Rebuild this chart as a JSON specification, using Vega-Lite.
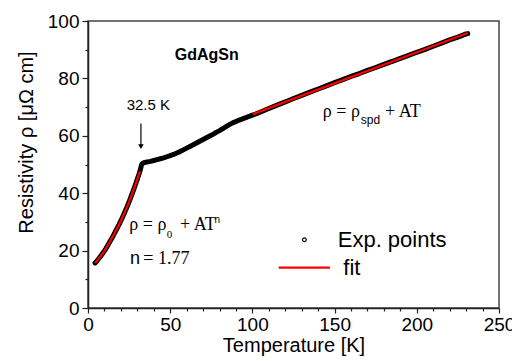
{
  "$schema": "https://vega.github.io/schema/vega-lite/v6.json",
  "width": 411,
  "height": 287,
  "autosize": {"type": "none"},
  "padding": {"left": 88, "top": 21, "right": 13, "bottom": 53},
  "config": {
    "view": {"stroke": "#444", "strokeWidth": 1.5},
    "font": "Liberation Sans",
    "axis": {
      "grid": false,
      "domainColor": "#222",
      "domainWidth": 1.5,
      "tickColor": "#222",
      "tickWidth": 1.2,
      "labelFont": "Liberation Sans",
      "labelFontSize": 19,
      "labelColor": "black",
      "labelOverlap": false,
      "labelFlush": false,
      "titleFont": "Liberation Sans",
      "titleFontWeight": "normal",
      "titleColor": "black"
    }
  },
  "datasets": {
    "exp": [
      {"T": 4.3, "rho": 15.7}, {"T": 5, "rho": 16.1}, {"T": 6, "rho": 16.8}, {"T": 7, "rho": 17.5},
      {"T": 8, "rho": 18.3}, {"T": 9, "rho": 19.1}, {"T": 10, "rho": 19.9}, {"T": 11, "rho": 20.8},
      {"T": 12, "rho": 21.8}, {"T": 13, "rho": 22.8}, {"T": 14, "rho": 23.8}, {"T": 15, "rho": 24.8},
      {"T": 16, "rho": 25.9}, {"T": 17, "rho": 27.0}, {"T": 18, "rho": 28.1}, {"T": 19, "rho": 29.2},
      {"T": 20, "rho": 30.4}, {"T": 21, "rho": 31.6}, {"T": 22, "rho": 32.9}, {"T": 23, "rho": 34.2},
      {"T": 24, "rho": 35.6}, {"T": 25, "rho": 37.0}, {"T": 26, "rho": 38.5}, {"T": 27, "rho": 40.0},
      {"T": 28, "rho": 41.6}, {"T": 29, "rho": 43.2}, {"T": 30, "rho": 44.9}, {"T": 31, "rho": 46.6},
      {"T": 32, "rho": 48.5}, {"T": 32.5, "rho": 49.8}, {"T": 33, "rho": 50.3}, {"T": 34, "rho": 50.6},
      {"T": 36, "rho": 50.9}, {"T": 38, "rho": 51.1}, {"T": 40, "rho": 51.4}, {"T": 42, "rho": 51.7},
      {"T": 44, "rho": 52.0}, {"T": 46, "rho": 52.3}, {"T": 48, "rho": 52.7}, {"T": 50, "rho": 53.1},
      {"T": 52, "rho": 53.5}, {"T": 54, "rho": 54.0}, {"T": 56, "rho": 54.5}, {"T": 58, "rho": 55.1},
      {"T": 60, "rho": 55.7}, {"T": 62, "rho": 56.3}, {"T": 64, "rho": 56.9}, {"T": 66, "rho": 57.5},
      {"T": 68, "rho": 58.1}, {"T": 70, "rho": 58.7}, {"T": 72, "rho": 59.3}, {"T": 74, "rho": 59.9},
      {"T": 76, "rho": 60.5}, {"T": 78, "rho": 61.2}, {"T": 80, "rho": 61.8}, {"T": 82, "rho": 62.5},
      {"T": 84, "rho": 63.2}, {"T": 86, "rho": 63.9}, {"T": 88, "rho": 64.5}, {"T": 90, "rho": 65.0},
      {"T": 92, "rho": 65.5}, {"T": 94, "rho": 65.9}, {"T": 96, "rho": 66.3}, {"T": 98, "rho": 66.8},
      {"T": 100, "rho": 67.2}, {"T": 102, "rho": 67.6}, {"T": 105, "rho": 68.3}, {"T": 110, "rho": 69.5},
      {"T": 115, "rho": 70.7}, {"T": 120, "rho": 71.8}, {"T": 125, "rho": 73.0}, {"T": 130, "rho": 74.1},
      {"T": 135, "rho": 75.2}, {"T": 140, "rho": 76.3}, {"T": 145, "rho": 77.4}, {"T": 150, "rho": 78.5},
      {"T": 155, "rho": 79.6}, {"T": 160, "rho": 80.7}, {"T": 165, "rho": 81.7}, {"T": 170, "rho": 82.8},
      {"T": 175, "rho": 83.8}, {"T": 180, "rho": 84.9}, {"T": 185, "rho": 85.9}, {"T": 190, "rho": 87.0},
      {"T": 195, "rho": 88.0}, {"T": 200, "rho": 89.1}, {"T": 205, "rho": 90.1}, {"T": 210, "rho": 91.2},
      {"T": 215, "rho": 92.3}, {"T": 220, "rho": 93.4}, {"T": 225, "rho": 94.4}, {"T": 230, "rho": 95.5},
      {"T": 231, "rho": 95.6}
    ],
    "fit": [
      {"seg": "low", "T": 4.3, "rho": 15.7}, {"seg": "low", "T": 7, "rho": 17.5}, {"seg": "low", "T": 10, "rho": 19.9},
      {"seg": "low", "T": 13, "rho": 22.8}, {"seg": "low", "T": 16, "rho": 25.9}, {"seg": "low", "T": 19, "rho": 29.2},
      {"seg": "low", "T": 22, "rho": 32.9}, {"seg": "low", "T": 25, "rho": 37.0}, {"seg": "low", "T": 28, "rho": 41.6},
      {"seg": "low", "T": 30, "rho": 44.9}, {"seg": "low", "T": 31.6, "rho": 47.6},
      {"seg": "high", "T": 100.2, "rho": 67.5}, {"seg": "high", "T": 231, "rho": 95.8}
    ]
  },
  "layer": [
    {
      "data": {"name": "exp"},
      "mark": {"type": "line", "color": "black", "strokeWidth": 5, "strokeCap": "round", "strokeJoin": "round"},
      "encoding": {
        "x": {
          "field": "T", "type": "quantitative",
          "scale": {"domain": [0, 250], "nice": false},
          "axis": {
            "title": "Temperature [K]",
            "titleFontSize": 20,
            "titlePadding": 1,
            "tickCount": 100,
            "values": [0, 10, 20, 30, 40, 50, 60, 70, 80, 90, 100, 110, 120, 130, 140, 150, 160, 170, 180, 190, 200, 210, 220, 230, 240, 250],
            "labelExpr": "datum.value % 50 === 0 ? datum.label : ''",
            "labelOverlap": false,
            "labelBound": false,
            "tickSize": {"condition": {"test": "datum.value % 50 === 0", "value": 5}, "value": 3},
            "labelPadding": 2
          }
        },
        "y": {
          "field": "rho", "type": "quantitative",
          "scale": {"domain": [0, 100], "nice": false},
          "axis": {
            "title": "Resistivity ρ [μΩ cm]",
            "titleFontSize": 20,
            "titleX": -56,
            "titleY": 121,
            "titleBaseline": "alphabetic",
            "tickCount": 100,
            "values": [0, 10, 20, 30, 40, 50, 60, 70, 80, 90, 100],
            "labelExpr": "datum.value % 20 === 0 ? datum.label : ''",
            "labelOverlap": false,
            "tickSize": {"condition": {"test": "datum.value % 20 === 0", "value": 6}, "value": 3},
            "labelPadding": 3
          }
        }
      }
    },
    {
      "data": {"name": "exp"},
      "mark": {"type": "point", "filled": true, "color": "black", "size": 16, "opacity": 1},
      "encoding": {
        "x": {"field": "T", "type": "quantitative"},
        "y": {"field": "rho", "type": "quantitative"}
      }
    },
    {
      "data": {"name": "fit"},
      "mark": {"type": "line", "color": "#ff0000", "strokeWidth": 2.2},
      "encoding": {
        "x": {"field": "T", "type": "quantitative"},
        "y": {"field": "rho", "type": "quantitative"},
        "detail": {"field": "seg"}
      }
    },
    {
      "data": {"values": [{"t": "GdAgSn"}]},
      "mark": {"type": "text", "font": "Liberation Sans", "fontWeight": "bold", "fontSize": 16, "align": "center", "baseline": "middle", "color": "black"},
      "encoding": {"x": {"datum": 72.2, "type": "quantitative"}, "y": {"datum": 88, "type": "quantitative"}, "text": {"field": "t"}}
    },
    {
      "data": {"values": [{"t": "32.5 K"}]},
      "mark": {"type": "text", "font": "Liberation Sans", "fontSize": 15, "align": "center", "baseline": "middle", "color": "black"},
      "encoding": {"x": {"datum": 36.7, "type": "quantitative"}, "y": {"datum": 70.6, "type": "quantitative"}, "text": {"field": "t"}}
    },
    {
      "data": {"values": [{"t": "arrow"}]},
      "mark": {"type": "rule", "color": "black", "strokeWidth": 1.2},
      "encoding": {"x": {"datum": 32.2, "type": "quantitative"}, "y": {"datum": 64.3, "type": "quantitative"}, "y2": {"datum": 56.8}}
    },
    {
      "data": {"values": [{"t": "arrowhead"}]},
      "mark": {"type": "point", "shape": "triangle-down", "filled": true, "color": "black", "size": 30, "opacity": 1},
      "encoding": {"x": {"datum": 32.2, "type": "quantitative"}, "y": {"datum": 56.2, "type": "quantitative"}}
    },
    {
      "data": {"values": [{"t": "ρ = ρ"}]},
      "mark": {"type": "text", "font": "Liberation Serif", "fontSize": 18, "align": "left", "baseline": "alphabetic", "color": "black"},
      "encoding": {"x": {"datum": 142.8, "type": "quantitative"}, "y": {"datum": 66.6, "type": "quantitative"}, "text": {"field": "t"}}
    },
    {
      "data": {"values": [{"t": "spd"}]},
      "mark": {"type": "text", "font": "Liberation Sans", "fontSize": 12, "align": "left", "baseline": "alphabetic", "color": "black"},
      "encoding": {"x": {"datum": 165.9, "type": "quantitative"}, "y": {"datum": 64.2, "type": "quantitative"}, "text": {"field": "t"}}
    },
    {
      "data": {"values": [{"t": "+ AT"}]},
      "mark": {"type": "text", "font": "Liberation Serif", "fontSize": 18, "align": "left", "baseline": "alphabetic", "color": "black"},
      "encoding": {"x": {"datum": 180.7, "type": "quantitative"}, "y": {"datum": 66.6, "type": "quantitative"}, "text": {"field": "t"}}
    },
    {
      "data": {"values": [{"t": "ρ = ρ"}]},
      "mark": {"type": "text", "font": "Liberation Serif", "fontSize": 18, "align": "left", "baseline": "alphabetic", "color": "black"},
      "encoding": {"x": {"datum": 25.1, "type": "quantitative"}, "y": {"datum": 27.1, "type": "quantitative"}, "text": {"field": "t"}}
    },
    {
      "data": {"values": [{"t": "0"}]},
      "mark": {"type": "text", "font": "Liberation Serif", "fontSize": 11, "align": "left", "baseline": "alphabetic", "color": "black"},
      "encoding": {"x": {"datum": 47.9, "type": "quantitative"}, "y": {"datum": 24.3, "type": "quantitative"}, "text": {"field": "t"}}
    },
    {
      "data": {"values": [{"t": "+ AT"}]},
      "mark": {"type": "text", "font": "Liberation Serif", "fontSize": 18, "align": "left", "baseline": "alphabetic", "color": "black"},
      "encoding": {"x": {"datum": 56.0, "type": "quantitative"}, "y": {"datum": 27.1, "type": "quantitative"}, "text": {"field": "t"}}
    },
    {
      "data": {"values": [{"t": "n"}]},
      "mark": {"type": "text", "font": "Liberation Sans", "fontSize": 10, "align": "left", "baseline": "alphabetic", "color": "black"},
      "encoding": {"x": {"datum": 77.0, "type": "quantitative"}, "y": {"datum": 29.5, "type": "quantitative"}, "text": {"field": "t"}}
    },
    {
      "data": {"values": [{"t": "n"}]},
      "mark": {"type": "text", "font": "Liberation Sans", "fontSize": 18, "align": "left", "baseline": "alphabetic", "color": "black"},
      "encoding": {"x": {"datum": 25.5, "type": "quantitative"}, "y": {"datum": 15.5, "type": "quantitative"}, "text": {"field": "t"}}
    },
    {
      "data": {"values": [{"t": "= 1.77"}]},
      "mark": {"type": "text", "font": "Liberation Serif", "fontSize": 18, "align": "left", "baseline": "alphabetic", "color": "black"},
      "encoding": {"x": {"datum": 33.6, "type": "quantitative"}, "y": {"datum": 15.5, "type": "quantitative"}, "text": {"field": "t"}}
    },
    {
      "data": {"values": [{"t": "legend point"}]},
      "mark": {"type": "point", "shape": "circle", "filled": false, "color": "black", "size": 14, "strokeWidth": 1.2, "opacity": 1},
      "encoding": {"x": {"datum": 131.6, "type": "quantitative"}, "y": {"datum": 23.8, "type": "quantitative"}}
    },
    {
      "data": {"values": [{"t": "Exp. points"}]},
      "mark": {"type": "text", "font": "Liberation Sans", "fontSize": 22, "align": "left", "baseline": "alphabetic", "color": "black"},
      "encoding": {"x": {"datum": 151.9, "type": "quantitative"}, "y": {"datum": 21.3, "type": "quantitative"}, "text": {"field": "t"}}
    },
    {
      "data": {"values": [{"t": "legend line"}]},
      "mark": {"type": "rule", "color": "#ff0000", "strokeWidth": 2.2},
      "encoding": {"x": {"datum": 116, "type": "quantitative"}, "x2": {"datum": 147.2}, "y": {"datum": 14.1, "type": "quantitative"}}
    },
    {
      "data": {"values": [{"t": "fit"}]},
      "mark": {"type": "text", "font": "Liberation Sans", "fontSize": 22, "align": "left", "baseline": "alphabetic", "color": "black"},
      "encoding": {"x": {"datum": 155.3, "type": "quantitative"}, "y": {"datum": 11.6, "type": "quantitative"}, "text": {"field": "t"}}
    }
  ]
}
